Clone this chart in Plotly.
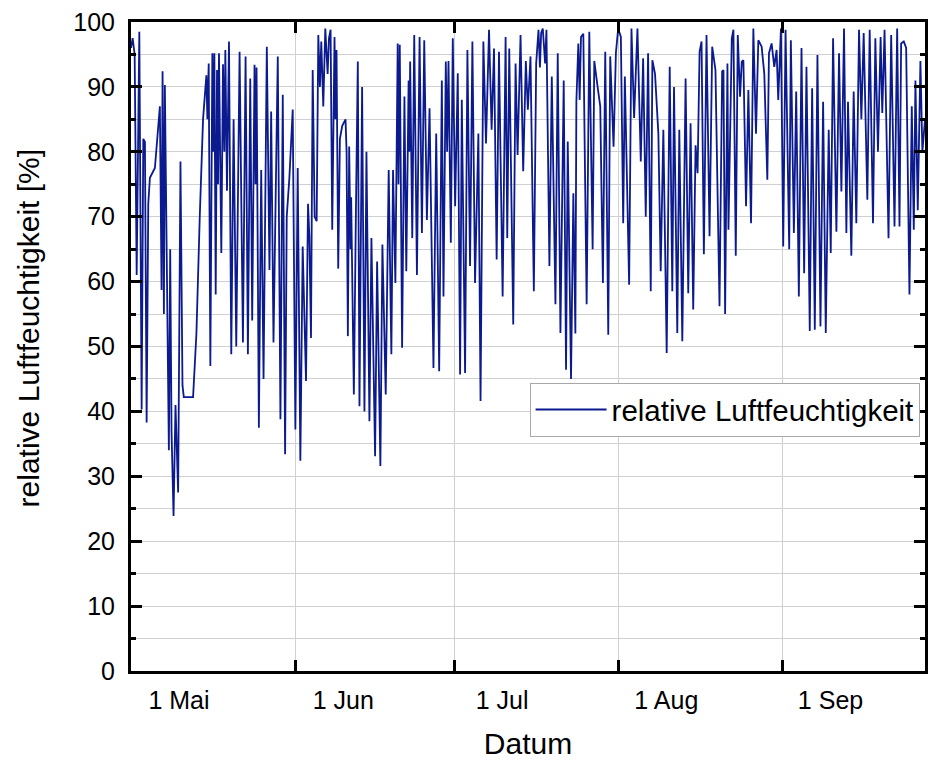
import pandas as pd
import plotly.graph_objects as go

# ---- data: day offset from 1 May and relative humidity [%] ----
seg1_days = [0.0, 0.31, 0.69, 1.07, 1.57, 2.01, 2.32, 2.63, 2.95, 3.26, 3.57, 4.51, 5.45, 5.77, 5.96,
             6.21, 6.39, 7.15, 7.40, 7.65, 8.03, 8.40, 8.90, 9.34, 9.72, 9.97, 11.72, 12.35, 12.98,
             13.6, 14.23, 14.42, 14.67, 14.98, 15.36, 15.55, 15.74, 15.99, 16.24, 16.43, 16.61, 17.05,
             17.37, 17.62, 17.81, 18.12, 18.50, 18.93, 19.37, 19.87, 20.5, 21.13, 21.63, 22.07, 22.51,
             22.88, 23.32, 23.51, 23.70, 24.14, 24.58, 25.02, 25.64, 26.14, 26.46, 26.9, 27.71, 28.21,
             28.65, 29.09, 29.4, 29.9, 30.53, 31.03, 31.47, 31.97, 32.41, 33.04, 33.42, 33.67, 33.98,
             34.3, 34.67, 35.05, 35.36, 35.67, 35.92, 36.3, 36.68, 37.12]
seg1_rh = [96, 97.5, 95, 61, 98.5, 40.3, 82, 81.5, 38.3, 72, 76, 77.5, 87, 58.7, 92.4,
           55, 90.3, 34, 65, 37, 23.9, 41, 27.5, 78.5, 44, 42.2, 42.2, 52, 70,
           85, 91.8, 85, 93.6, 47, 95.2, 80, 95.2, 58, 92.6, 75, 95.2, 64.4,
           93.5, 80, 95.7, 74, 97, 48.8, 85, 50, 95.4, 50.6, 94.7, 48.8, 91.3,
           54, 93.4, 75, 93, 37.5, 77.2, 45, 96.2, 61.8, 86.2, 50.6, 94.7, 38.8,
           88.8, 33.4, 70, 76, 86.5, 37.2, 77.5, 32.4, 65.4, 44.7, 72, 67, 51.3,
           92.6, 70, 69.3, 98, 90, 97, 87, 99, 92]

seg2_days = [37.37, 37.68, 37.99, 38.42, 38.6, 38.80, 39.12, 39.44, 39.88, 40.5, 40.7, 40.94, 41.19,
             41.44, 41.56, 42.07, 42.45, 42.82, 43.13, 43.63, 44.07, 44.45, 45.01, 45.39, 46.08, 46.46,
             47.08, 47.46, 48.09, 48.65, 49.15, 49.47, 49.91, 50.35, 50.5, 50.74, 51.18, 51.62, 51.97,
             52.41, 52.55, 52.7, 53.1, 53.47, 53.98, 54.48, 54.92, 55.36, 55.86, 56.36, 57.1, 57.62,
             58.18, 58.68, 58.99, 59.43, 59.68, 59.94, 60.38, 60.75, 61.19, 61.69, 62.13, 62.45, 63.07,
             63.51, 64.01, 64.45, 64.95, 65.58, 65.99, 66.52, 67.02, 67.59, 68.08, 68.53, 69.03, 69.47,
             70.16, 70.72, 71.03, 71.41, 72.16, 72.6, 72.98, 73.54, 74.04, 74.54]
seg2_rh = [97.5, 98.8, 68, 97.7, 85, 95.7, 62, 82, 84, 85, 80, 51.6, 80.8,
           65, 73, 42.6, 70, 93.9, 40.8, 90, 40, 80, 38.5, 66.7, 33.1, 63.1,
           31.6, 65.7, 42.6, 77.2, 48.8, 77.2, 59.8, 96.7, 75, 96.5, 49.8, 88.5, 61.6,
           91, 80, 93.9, 66.7, 98, 61, 97.7, 67.5, 97.2, 69.5, 86.7, 46.7, 82.8,
           46.2, 91, 57.7, 93.9, 80, 94, 66, 97.5, 71.6, 92.1, 45.7, 88, 45.9,
           95.7, 62.4, 97, 59.8, 82.8, 41.6, 97, 81.3, 98.8, 83.4, 95.9, 63.4, 95.4,
           57.7, 97.7, 66.7, 95.9, 53.4, 93.6, 79.5, 98, 77, 94]

seg3_days = [74.92, 75.42, 76.05, 76.49, 76.93, 77.2, 77.43, 77.74, 78.18, 78.43, 78.99, 79.44, 80.13,
             80.56, 81.07, 81.69, 82.13, 82.45, 83.07, 83.51, 83.89, 84.08, 84.45, 84.7, 84.95, 85.39,
             86.02, 86.52, 87.15, 87.46, 88.09, 88.59, 89.09, 89.53, 90.1, 90.47, 91.1, 91.54, 91.97,
             92.48, 92.92, 93.23, 94.04, 94.48, 94.98, 95.61, 96.24, 96.68, 97.18, 97.62, 98.12, 98.43,
             98.93, 99.56, 100.0, 100.5, 101.13, 101.7, 102.19, 102.51, 103.13, 103.51, 104.08, 104.7,
             105.2, 105.64, 106.14, 106.58, 106.96, 107.34, 107.71, 108.15, 108.65, 109.22, 109.72,
             110.34, 111.1, 111.6]
seg3_rh = [86.5, 94.7, 58.5, 93.6, 98.8, 93, 98.3, 99, 93.6, 98.8, 62.4, 91.6, 56.5,
           95.2, 52.1, 91, 46.4, 81.6, 45, 73.6, 52, 87.7, 96.7, 88, 97.7, 98.2,
           56.5, 98.5, 65, 94, 90, 87, 59.8, 95.4, 51.8, 94.7, 80.8, 95.2, 99,
           97.7, 69, 91.6, 59.5, 99, 85.2, 99, 78.5, 94.4, 70, 95.2, 58.5, 94.1,
           92, 82.8, 61.6, 83.4, 49, 93.1, 58.5, 90, 52.1, 83.4, 50.8, 91.3,
           58.2, 84.4, 55.7, 81, 76.7, 95.4, 97, 64.2, 98, 67, 96.2,
           92.6, 56.2, 92.4]

seg4_days = [111.85, 112.16, 112.6, 112.79, 113.42, 113.73, 114.17, 114.55, 114.98, 115.3, 115.61,
             116.11, 116.55, 117.05, 117.49, 117.99, 118.43, 119.06, 119.56, 120.13, 120.44, 120.94,
             121.44, 121.88, 122.19, 122.7, 123.13, 123.57, 124.26, 124.57, 125.14, 125.58, 126.08,
             126.58, 127.08, 127.52, 128.14, 128.59, 129.09, 129.59, 130.16, 130.66, 131.16, 131.72,
             132.1, 132.54, 133.17, 133.67, 134.11, 134.61, 135.05, 135.36, 135.99, 136.43, 136.93,
             137.44, 137.88, 138.32, 139.01, 139.45, 140.08, 140.52, 141.02, 141.52, 141.83, 142.26,
             143.01, 143.51, 144.14, 144.64, 145.08, 145.39, 145.89, 146.34, 146.96, 147.4, 147.78,
             148.09, 148.53, 149.03, 149.4, 149.9]
seg4_rh = [92.6, 55, 93.6, 68, 97.5, 98.8, 64, 98, 88.5, 93.9, 94.1,
           71.6, 89.5, 69, 99, 82.8, 97.2, 96.2, 92, 75.7, 95.2, 96.7,
           93.1, 95.7, 88, 99, 65.4, 98.8, 65, 97.2, 67.5, 89.3, 57.7,
           96, 61.3, 93.1, 52.4, 89.8, 52.6, 94.9, 53.1, 87.7, 52.1, 83.4,
           64.4, 97.5, 67.7, 95.2, 73.9, 99, 67.5, 87.7, 64, 89.3, 69,
           98.8, 85, 98.3, 72.6, 98.8, 69, 97.5, 80, 97.7, 86, 98.8,
           66.7, 98, 68.5, 99, 68.5, 96.7, 97, 96, 58, 87, 68,
           91, 71, 94, 80, 85]

start_date = "2023-05-01"
end_date = "2023-09-27 21:30"
month_ticks = ["2023-05-01", "2023-06-01", "2023-07-01", "2023-08-01", "2023-09-01"]
month_labels = ["1 Mai", "1 Jun", "1 Jul", "1 Aug", "1 Sep"]
series_name = "relative Luftfeuchtigkeit"
y_title = "relative Luftfeuchtigkeit [%]"
x_title = "Datum"

days = seg1_days + seg2_days + seg3_days + seg4_days
rh = seg1_rh + seg2_rh + seg3_rh + seg4_rh
times = pd.Timestamp(start_date) + pd.to_timedelta(days, unit="D")

FONT = "Liberation Sans, Arial, sans-serif"
GRID = "#d0d0d0"

fig = go.Figure()
fig.add_trace(go.Scatter(
    x=times, y=rh, mode="lines", name=series_name,
    line=dict(color="#0b1a8f", width=1.8),
    showlegend=True,
))

fig.update_layout(
    width=928, height=760,
    margin=dict(l=131, r=0, t=22, b=89),
    paper_bgcolor="white", plot_bgcolor="white",
    font=dict(family=FONT, color="black", size=24),
    showlegend=True,
    legend=dict(
        x=0.502, y=0.444, xanchor="left", yanchor="top",
        bgcolor="white", bordercolor="#a8a8a8", borderwidth=1,
        font=dict(family=FONT, size=29.5, color="black"),
        itemwidth=71, tracegroupgap=0,
    ),
    annotations=[dict(
        text=y_title, textangle=-90, showarrow=False,
        xref="paper", yref="paper", x=-0.1292, y=0.5285,
        xanchor="center", yanchor="middle",
        font=dict(family=FONT, size=30, color="black"),
    )],
)

fig.update_xaxes(
    type="date",
    range=[start_date, end_date],
    tickmode="array", tickvals=month_ticks, ticktext=month_labels,
    ticks="inside", ticklen=11, tickwidth=2.5, tickcolor="black",
    ticklabelshift=48, ticklabelstandoff=5,
    showline=True, linewidth=3, linecolor="black", mirror="ticks",
    showgrid=True, gridcolor=GRID, gridwidth=1,
    zeroline=False,
    tickfont=dict(family=FONT, size=25, color="black"),
    title=dict(text=x_title, font=dict(family=FONT, size=30, color="black"), standoff=20),
)

fig.update_yaxes(
    range=[0, 100],
    tickmode="linear", tick0=0, dtick=10,
    ticks="inside", ticklen=11, tickwidth=2.5, tickcolor="black",
    ticklabelstandoff=8,
    showline=True, linewidth=3, linecolor="black", mirror="ticks",
    showgrid=True, gridcolor=GRID, gridwidth=1,
    minor=dict(dtick=5, ticks="inside", ticklen=5, tickwidth=2.5, tickcolor="black",
               showgrid=True, gridcolor=GRID, gridwidth=1),
    zeroline=False,
    tickfont=dict(family=FONT, size=25, color="black"),
)

fig.write_html("out.html")
